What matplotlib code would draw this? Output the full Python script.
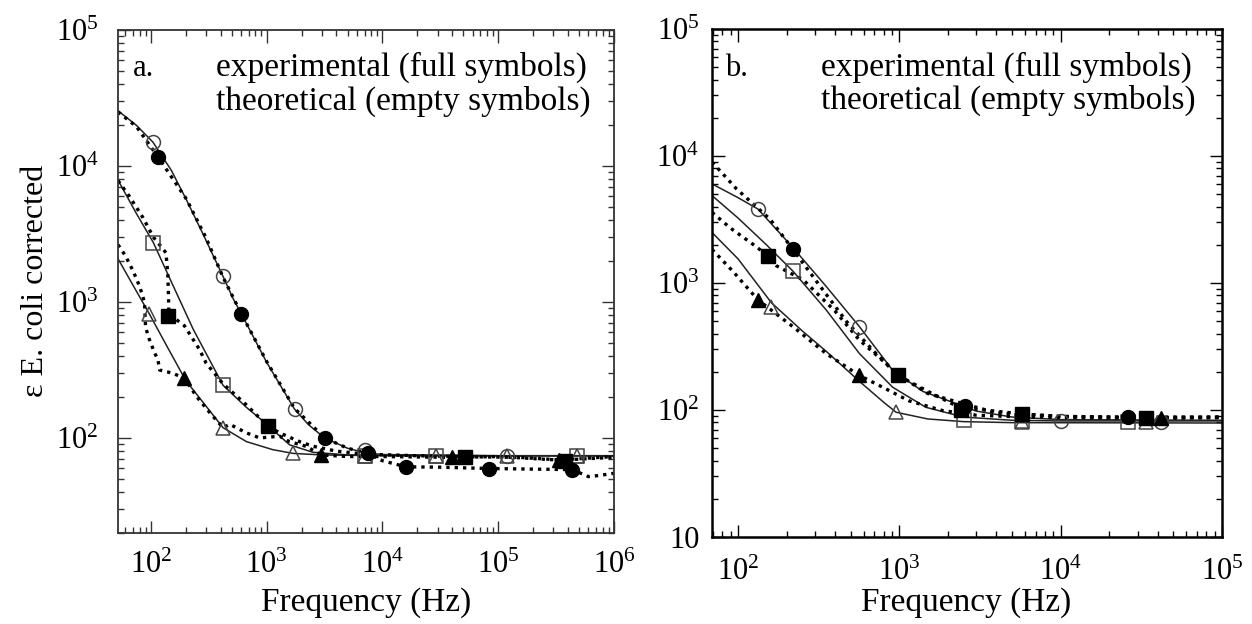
import matplotlib
matplotlib.use('Agg')
import matplotlib.pyplot as plt
from matplotlib.ticker import FixedLocator, FixedFormatter, LogLocator, NullFormatter

plt.rcParams['font.family'] = ['Liberation Serif', 'DejaVu Serif']
plt.rcParams['mathtext.fontset'] = 'custom'
plt.rcParams['mathtext.rm'] = 'Liberation Serif'
plt.rcParams['mathtext.it'] = 'Liberation Serif:italic'
plt.rcParams['mathtext.bf'] = 'Liberation Serif:bold'

# ---------------- Panel a : theoretical (solid lines) ----------------
a_th_circ_f = [52, 75, 104, 150, 203, 282, 420, 513, 605, 1000, 1740, 2300, 3170, 5000, 7000, 1e4, 1e5, 1e6]
a_th_circ_y = [25500, 19900, 15000, 9300, 5630, 3160, 1540, 1060, 817, 360, 163, 125, 100, 84, 78, 75.5, 74, 74]
a_th_sq_f = [52, 75, 105, 150, 232, 420, 668, 929, 1578, 2500, 5000, 1e4, 1e5, 1e6]
a_th_sq_y = [7870, 4470, 2735, 1410, 630, 244, 168, 133, 89, 78.5, 75, 74.5, 74, 74]
a_th_tri_f = [52, 70, 97, 140, 200, 300, 420, 668, 1130, 1690, 3000, 1e4, 1e6]
a_th_tri_y = [2080, 1330, 817, 460, 265, 171, 119, 94, 82, 77, 75, 74, 74]

# ---------------- Panel a : experimental (dotted lines) ----------------
a_ex_circ_f = [52, 75, 116, 203, 300, 420, 605, 1000, 1740, 3170, 5000, 7470, 1e4, 1.6e4, 3e4, 8.4e4, 2e5, 4.35e5, 6e5, 7.5e5, 1e6]
a_ex_circ_y = [25000, 19500, 11560, 5700, 2950, 1520, 817, 365, 165, 100, 84, 77, 68, 61.3, 61, 59.6, 59, 58.5, 52, 53, 55]
a_ex_sq_f = [52, 65, 85, 105, 125, 135, 140, 142, 143, 160, 195, 263, 300, 420, 668, 1026, 1294, 1920, 2500, 4000, 7000, 2e4, 5.2e4, 1.5e5, 3.4e5, 1e6]
a_ex_sq_y = [7800, 6000, 4200, 3000, 2500, 2300, 1600, 1100, 800, 760, 668, 447, 355, 250, 175, 122, 109, 94, 87, 80, 76, 74, 72.8, 72, 69, 73]
a_ex_tri_f = [52, 60, 70, 80, 88, 90, 97, 108, 115, 119, 155, 195, 250, 330, 420, 480, 668, 870, 1294, 1570, 2200, 2950, 5000, 1e4, 4e4, 1e5, 3.4e5, 1e6]
a_ex_tri_y = [2640, 2200, 1700, 1300, 1000, 650, 530, 420, 376, 316, 299, 274, 200, 150, 119, 126, 109, 100, 103, 94, 86.7, 75, 73, 73, 72, 73, 68.7, 72]

# ---------------- Panel a : symbols ----------------
a_full_circ_f = [116, 605, 3170, 7470, 1.6e4, 8.36e4, 4.35e5]
a_full_circ_y = [11560, 817, 100, 77, 61.3, 59.6, 58.5]
a_full_sq_f = [141, 1026, 5.2e4, 3.8e5]
a_full_sq_y = [794, 122, 72.8, 68]
a_full_tri_f = [195, 2950, 4e4, 3.36e5]
a_full_tri_y = [274, 75, 72, 68.7]
a_open_circ_f = [104, 420, 1740, 7000, 1.2e5]
a_open_circ_y = [15000, 1540, 163, 81, 74]
a_open_sq_f = [105, 420, 7000, 2.9e4, 4.83e5]
a_open_sq_y = [2735, 244, 74, 74, 74]
a_open_tri_f = [97, 420, 1690, 7000, 2.9e4, 1.2e5, 4.83e5]
a_open_tri_y = [817, 119, 77, 74, 74, 74, 74]

# ---------------- Panel b : theoretical ----------------
b_th_circ_f = [69, 100, 133, 219, 352, 566, 910, 1400, 2140, 3000, 5000, 1e4, 1e5]
b_th_circ_y = [6030, 4700, 3820, 1900, 940, 453, 205, 140, 115, 98, 88, 84, 83]
b_th_sq_f = [69, 100, 150, 219, 352, 566, 910, 1460, 2500, 5000, 1e4, 1e5]
b_th_sq_y = [4880, 3250, 2000, 1240, 614, 278, 151, 105, 88, 83, 82, 82]
b_th_tri_f = [69, 100, 161, 250, 352, 566, 800, 955, 1500, 2500, 5000, 1e5]
b_th_tri_y = [2500, 1550, 700, 420, 290, 168, 115, 96, 85, 81, 79.5, 79]

# ---------------- Panel b : experimental ----------------
b_ex_circ_f = [69, 80, 98, 158, 219, 300, 469, 700, 977, 1500, 2565, 4000, 1e4, 2.63e4, 1e5]
b_ex_circ_y = [8950, 7300, 5500, 3180, 1840, 1070, 500, 287, 190, 135, 111, 95, 89, 88, 88]
b_ex_sq_f = [69, 90, 125, 154, 174, 253, 400, 566, 827, 977, 1610, 2350, 5780, 1e4, 3.4e4, 1e5]
b_ex_sq_y = [3600, 2700, 2000, 1630, 1360, 1062, 600, 355, 232, 187, 134, 105, 93, 89, 87, 88]
b_ex_tri_f = [69, 93, 133, 219, 352, 566, 789, 1150, 1850, 3000, 6000, 4.2e4, 1e5]
b_ex_tri_y = [1840, 1235, 736, 453, 278, 187, 151, 118, 99, 91, 88, 86, 87]

# ---------------- Panel b : symbols ----------------
b_full_circ_f = [219, 2565, 2.63e4]
b_full_circ_y = [1840, 108, 88]
b_full_sq_f = [154, 977, 2400, 5780, 3.4e4]
b_full_sq_y = [1630, 187, 100, 93, 87]
b_full_tri_f = [133, 566, 4.2e4]
b_full_tri_y = [736, 187, 86]
b_open_circ_f = [133, 566, 1.01e4, 4.2e4]
b_open_circ_y = [3820, 453, 82, 81]
b_open_sq_f = [219, 2500, 5780, 2.63e4]
b_open_sq_y = [1240, 84, 82, 81]
b_open_tri_f = [161, 955, 5780, 3.4e4]
b_open_tri_y = [653, 96, 80, 80]

# ---------------- axis ticks ----------------
a_xticks = [1e2, 1e3, 1e4, 1e5, 1e6]
a_xlabels = ['10$^2$', '10$^3$', '10$^4$', '10$^5$', '10$^6$']
a_yticks = [1e2, 1e3, 1e4, 1e5]
a_ylabels = ['10$^2$', '10$^3$', '10$^4$', '10$^5$']
b_xticks = [1e2, 1e3, 1e4, 1e5]
b_xlabels = ['10$^2$', '10$^3$', '10$^4$', '10$^5$']
b_yticks = [1e1, 1e2, 1e3, 1e4, 1e5]
b_ylabels = ['10', '10$^2$', '10$^3$', '10$^4$', '10$^5$']

W, H = 1252, 624
fig = plt.figure(figsize=(W / 100, H / 100), dpi=100)

def px_axes(l, t, r, b):
    return fig.add_axes([l / W, 1 - b / H, (r - l) / W, (b - t) / H])

axa = px_axes(118, 30, 614, 533)
axb = px_axes(712, 29, 1222, 537)

EXP_LS = (0, (1.0, 1.5))

def draw(ax, th, ex, full, opn):
    for f, y in th:
        ax.plot(f, y, '-', color='#222222', lw=1.1, zorder=2)
    for f, y in ex:
        ax.plot(f, y, linestyle=EXP_LS, color='black', lw=2.4, zorder=2)
    for (f, y), m, ms in zip(full, ['o', 's', '^'], [10, 9.5, 10]):
        ax.plot(f, y, m, ls='none', color='black', ms=ms, zorder=4)
    for (f, y), m, ms in zip(opn, ['o', 's', '^'], [10, 9.5, 10]):
        ax.plot(f, y, m, ls='none', mfc='none', mec='#444444', mew=1.1, ms=ms, zorder=3)

draw(axa,
     [(a_th_circ_f, a_th_circ_y), (a_th_sq_f, a_th_sq_y), (a_th_tri_f, a_th_tri_y)],
     [(a_ex_circ_f, a_ex_circ_y), (a_ex_sq_f, a_ex_sq_y), (a_ex_tri_f, a_ex_tri_y)],
     [(a_full_circ_f, a_full_circ_y), (a_full_sq_f, a_full_sq_y), (a_full_tri_f, a_full_tri_y)],
     [(a_open_circ_f, a_open_circ_y), (a_open_sq_f, a_open_sq_y), (a_open_tri_f, a_open_tri_y)])
draw(axb,
     [(b_th_circ_f, b_th_circ_y), (b_th_sq_f, b_th_sq_y), (b_th_tri_f, b_th_tri_y)],
     [(b_ex_circ_f, b_ex_circ_y), (b_ex_sq_f, b_ex_sq_y), (b_ex_tri_f, b_ex_tri_y)],
     [(b_full_circ_f, b_full_circ_y), (b_full_sq_f, b_full_sq_y), (b_full_tri_f, b_full_tri_y)],
     [(b_open_circ_f, b_open_circ_y), (b_open_sq_f, b_open_sq_y), (b_open_tri_f, b_open_tri_y)])

def style(ax, xlim, ylim, xt, xl, yt, yl, spcol, splw, xpad, ypad):
    ax.set_xscale('log')
    ax.set_yscale('log')
    ax.set_xlim(*xlim)
    ax.set_ylim(*ylim)
    ax.xaxis.set_major_locator(FixedLocator(xt))
    ax.xaxis.set_major_formatter(FixedFormatter(xl))
    ax.yaxis.set_major_locator(FixedLocator(yt))
    ax.yaxis.set_major_formatter(FixedFormatter(yl))
    for axis in (ax.xaxis, ax.yaxis):
        axis.set_minor_locator(LogLocator(base=10, subs=range(2, 10), numticks=100))
        axis.set_minor_formatter(NullFormatter())
    ax.tick_params(which='both', direction='in', top=True, right=True,
                   color=spcol, width=1.0)
    ax.tick_params(which='major', length=9, labelsize=22)
    ax.tick_params(axis='x', which='major', pad=xpad)
    ax.tick_params(axis='y', which='major', pad=ypad)
    ax.tick_params(which='minor', length=4.5)
    for s in ax.spines.values():
        s.set_color(spcol)
        s.set_linewidth(splw)

style(axa, (52, 1e6), (20, 1e5), a_xticks, a_xlabels, a_yticks, a_ylabels, '#333333', 1.3, 13, 14)
style(axb, (69, 1e5), (10, 1e5), b_xticks, b_xlabels, b_yticks, b_ylabels, 'black', 1.8, 15, 9)

def ftext(x, y, s, **kw):
    fig.text(x / W, 1 - y / H, s, **kw)

ftext(36, 281, 'ε E. coli corrected', rotation=90, ha='center', va='center', fontsize=23)
ftext(366, 603, 'Frequency (Hz)', ha='center', va='center', fontsize=24)
ftext(966, 603, 'Frequency (Hz)', ha='center', va='center', fontsize=24)

ftext(133, 76, 'a.', ha='left', va='baseline', fontsize=22)
ftext(216, 76, 'experimental (full symbols)', ha='left', va='baseline', fontsize=24)
ftext(216, 110, 'theoretical (empty symbols)', ha='left', va='baseline', fontsize=24)
ftext(725, 76, 'b.', ha='left', va='baseline', fontsize=22)
ftext(821, 76, 'experimental (full symbols)', ha='left', va='baseline', fontsize=24)
ftext(821, 109, 'theoretical (empty symbols)', ha='left', va='baseline', fontsize=24)

fig.savefig('out.png', dpi=100)
